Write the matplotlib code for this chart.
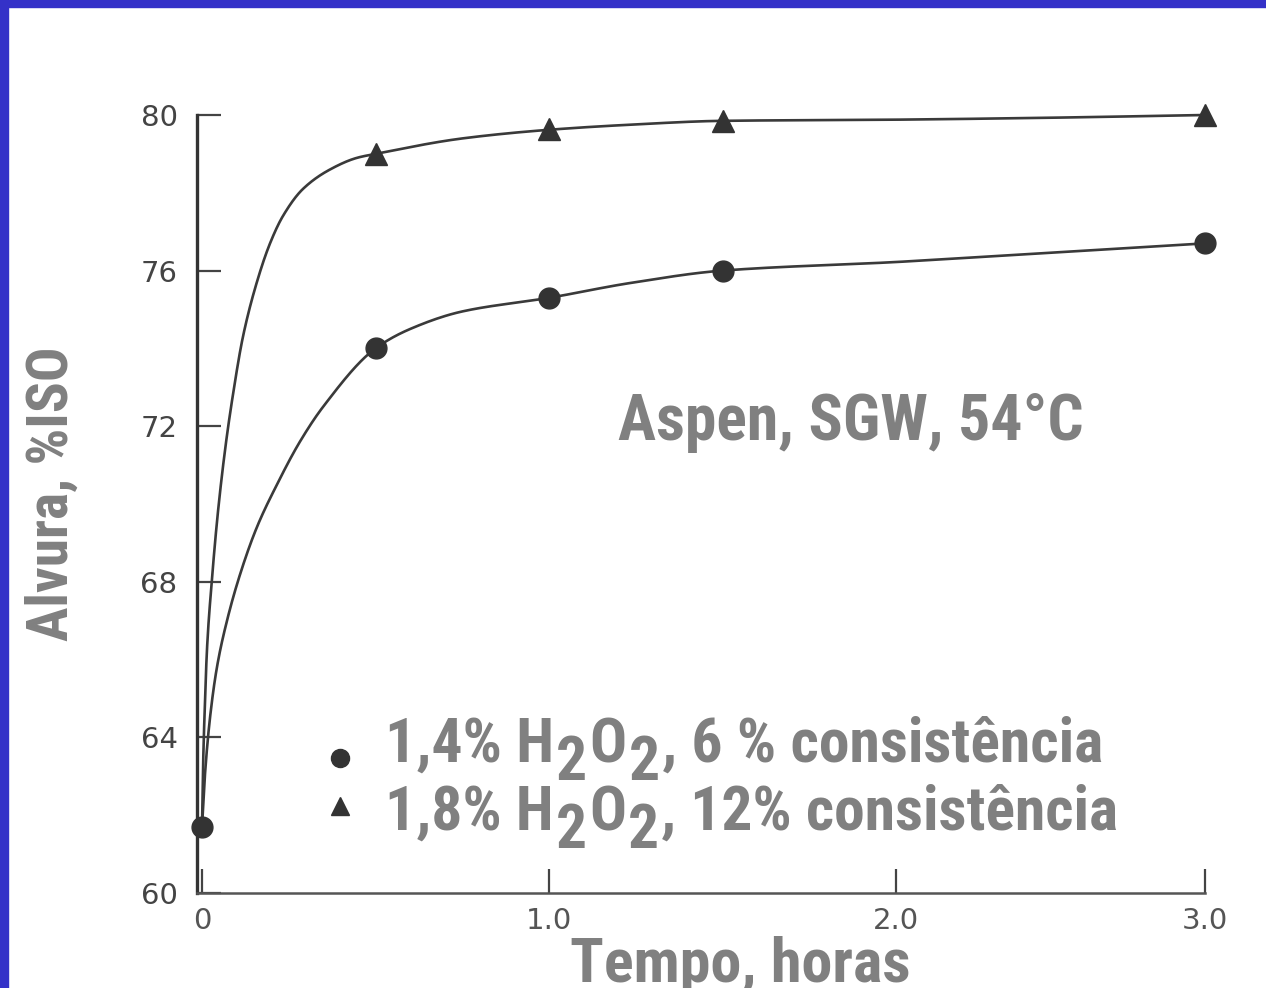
import numpy as np
import matplotlib
matplotlib.use("Agg")
import matplotlib.pyplot as plt
from matplotlib import font_manager
from matplotlib.transforms import IdentityTransform

# marker data (tempo in horas, alvura in %ISO)
tempo = [0.0, 0.5, 1.0, 1.5, 3.0]
alvura_14 = [61.7, 74.0, 75.3, 76.0, 76.7]
tempo_18 = [0.5, 1.0, 1.5, 3.0]
alvura_18 = [79.0, 79.65, 79.85, 80.0]

# hand drawn curves
curva_14_t = [0, 0.009, 0.023, 0.043, 0.072, 0.110, 0.158, 0.216, 0.282, 0.349,
              0.5, 0.6, 0.75, 1.0, 1.233, 1.5, 2.0, 2.5, 3.0]
curva_14_y = [61.7, 63.1, 64.5, 65.8, 67.0, 68.2, 69.4, 70.5, 71.6, 72.5,
              74.0, 74.5, 74.95, 75.3, 75.68, 76.0, 76.22, 76.46, 76.7]
curva_18_t = [0, 0.004, 0.009, 0.014, 0.029, 0.046, 0.068, 0.089, 0.118, 0.158,
              0.196, 0.233, 0.291, 0.369, 0.447, 0.5, 0.752, 1.0, 1.233, 1.5,
              2.0, 2.5, 3.0]
curva_18_y = [61.7, 63.6, 65.0, 66.2, 68.1, 69.8, 71.5, 72.8, 74.3, 75.7,
              76.7, 77.4, 78.1, 78.6, 78.9, 79.0, 79.4, 79.62, 79.75, 79.85,
              79.88, 79.93, 80.0]

yticks = [60, 64, 68, 72, 76, 80]
xticks = [0, 1, 2, 3]
xticklabels = ["0", "1.0", "2.0", "3.0"]


def has_bold(name):
    for f in font_manager.fontManager.ttflist:
        w = f.weight if isinstance(f.weight, int) else {"bold": 700}.get(f.weight, 400)
        if f.name == name and w >= 700 and f.style == "normal":
            return True
    return False


bold_font = next((c for c in ["Liberation Sans Narrow", "Arial Narrow", "Roboto Condensed",
                              "Archivo Narrow", "PT Sans Narrow", "Liberation Sans"]
                  if has_bold(c)), "DejaVu Sans")

gray = "#808080"
ink = "#3a3a3a"


def pchip(x, y, xs):
    # monotone cubic, only used to draw the traced curve smoothly
    x = np.asarray(x, float)
    y = np.asarray(y, float)
    h = np.diff(x)
    d = np.diff(y) / h
    m = np.zeros_like(y)
    m[0], m[-1] = d[0], d[-1]
    for k in range(1, len(x) - 1):
        if d[k - 1] * d[k] > 0:
            w1 = 2 * h[k] + h[k - 1]
            w2 = h[k] + 2 * h[k - 1]
            m[k] = (w1 + w2) / (w1 / d[k - 1] + w2 / d[k])
    i = np.clip(np.searchsorted(x, xs) - 1, 0, len(x) - 2)
    s = (xs - x[i]) / h[i]
    h00 = 2 * s**3 - 3 * s**2 + 1
    h10 = s**3 - 2 * s**2 + s
    h01 = -2 * s**3 + 3 * s**2
    h11 = s**3 - s**2
    return h00 * y[i] + h10 * h[i] * m[i] + h01 * y[i + 1] + h11 * h[i] * m[i + 1]


fig = plt.figure(figsize=(12.66, 9.88), dpi=100)
fig.patch.set_facecolor("white")
# blue frame (top and left)
fig.patches.append(plt.Rectangle((0, 1 - 7 / 988), 1, 7 / 988, transform=fig.transFigure,
                                 color="#3431c8", zorder=0))
fig.patches.append(plt.Rectangle((0, 0), 8 / 1266, 1, transform=fig.transFigure,
                                 color="#3431c8", zorder=0))

ax = fig.add_axes([197 / 1266, 95 / 988, 1008 / 1266, 778 / 988])


# the 2.0 -> 3.0 stretch of the original axis is compressed
def fwd(t):
    t = np.asarray(t, dtype=float)
    return np.where(t > 2, 2 + (t - 2) * 0.89, t)


def inv(d):
    d = np.asarray(d, dtype=float)
    return np.where(d > 2, 2 + (d - 2) / 0.89, d)


ax.set_xscale("function", functions=(fwd, inv))
ax.set_xlim(inv(-0.0144), 3.0)
ax.set_ylim(60, 80)

for ct, cy in [(curva_18_t, curva_18_y), (curva_14_t, curva_14_y)]:
    ts = np.concatenate([np.linspace(0, 0.5, 400), np.linspace(0.5, 3.0, 300)])
    ax.plot(ts, pchip(ct, cy, ts), color=ink, lw=1.9, solid_joinstyle="round",
            solid_capstyle="round", clip_on=False)
ax.plot(tempo, alvura_14, "o", color="#333333", ms=15, clip_on=False, zorder=5)
ax.plot(tempo_18, alvura_18, "^", color="#333333", ms=16, clip_on=False, zorder=5)

for s in ["top", "right"]:
    ax.spines[s].set_visible(False)
ax.spines["left"].set_linewidth(2.4)
ax.spines["left"].set_color("#333333")
ax.spines["bottom"].set_linewidth(1.8)
ax.spines["bottom"].set_color("#555555")

ax.set_yticks(yticks)
ax.set_yticklabels([str(v) for v in yticks])
ax.set_xticks(xticks)
ax.set_xticklabels(xticklabels)
ax.tick_params(axis="y", direction="in", length=17, width=1.6, color="#444444",
               pad=14, labelsize=21, labelcolor="#444444")
ax.tick_params(axis="x", direction="in", length=17, width=1.6, color="#444444",
               pad=10, labelsize=21, labelcolor="#555555")
for lab in ax.get_xticklabels() + ax.get_yticklabels():
    lab.set_fontfamily("DejaVu Sans")

renderer = fig.canvas.get_renderer()
bold = dict(fontfamily=bold_font, fontweight="bold", color=gray)


def fit(t, size, vertical=False):
    # scale a text so that it spans the same length as in the picture
    bb = t.get_window_extent(renderer)
    n = bb.height if vertical else bb.width
    t.set_fontsize(t.get_fontsize() * size / n)


fit(fig.text(52 / 1266, 494 / 988, "Alvura, %ISO", rotation=90, ha="center", va="center",
             fontsize=42, **bold), 295, vertical=True)
fit(fig.text(740 / 1266, 6 / 988, "Tempo, horas", ha="center", va="baseline",
             fontsize=45, **bold), 340)
fit(fig.text(618 / 1266, 548 / 988, "Aspen, SGW, 54°C", ha="left", va="baseline",
             fontsize=46, **bold), 465)


# legend with lowered subscripts
def rich_line(x, y, pieces, width):
    size = 44
    for rnd in range(2):
        texts = []
        cx = x
        for s, dy in pieces:
            t = fig.text(cx, y + dy, s, transform=IdentityTransform(), ha="left",
                         va="baseline", fontsize=size, **bold)
            cx += t.get_window_extent(renderer).width + 2
            texts.append(t)
        if rnd == 0:
            size = size * width / (cx - x)
            for t in texts:
                t.remove()


rich_line(385, 226, [("1,4% H", 0), ("2", -18), ("O", 0), ("2", -18), (", 6 % consistência", 0)], 720)
rich_line(385, 158, [("1,8% H", 0), ("2", -18), ("O", 0), ("2", -18), (", 12% consistência", 0)], 735)
fig.lines.append(plt.Line2D([340], [230], marker="o", ms=13, color="#333333",
                            transform=IdentityTransform()))
fig.lines.append(plt.Line2D([340], [182], marker="^", ms=13, color="#333333",
                            transform=IdentityTransform()))

fig.savefig("out.png", dpi=100)
